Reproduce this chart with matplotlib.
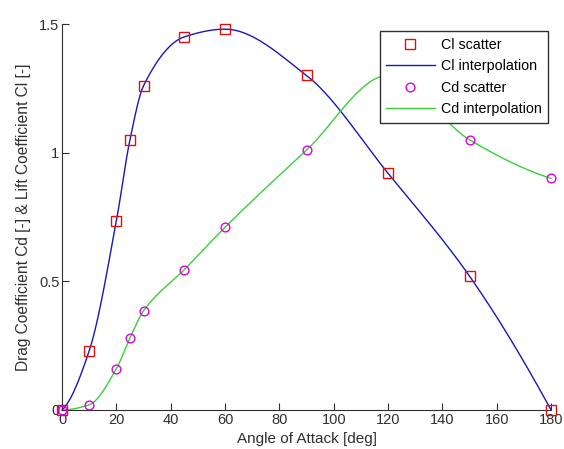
import numpy as np
import matplotlib
matplotlib.use("Agg")
import matplotlib.pyplot as plt

angle = [0, 10, 20, 25, 30, 45, 60, 90, 120, 150, 180]
cl = [0.0, 0.23, 0.735, 1.05, 1.26, 1.45, 1.48, 1.30, 0.92, 0.52, 0.0]
cd = [0.0, 0.02, 0.16, 0.28, 0.385, 0.545, 0.71, 1.01, 1.30, 1.05, 0.90]
xticks = [0, 20, 40, 60, 80, 100, 120, 140, 160, 180]
yticks = [0, 0.5, 1, 1.5]
yticklabels = ["0", "0.5", "1", "1.5"]


def pchip(x, y, xx):
    x = np.asarray(x, float)
    y = np.asarray(y, float)
    h = np.diff(x)
    delta = np.diff(y) / h
    n = len(x)
    d = np.zeros(n)
    for k in range(1, n - 1):
        if delta[k - 1] * delta[k] > 0:
            w1 = 2 * h[k] + h[k - 1]
            w2 = h[k] + 2 * h[k - 1]
            d[k] = (w1 + w2) / (w1 / delta[k - 1] + w2 / delta[k])

    def end_slope(h0, h1, d0, d1):
        s = ((2 * h0 + h1) * d0 - h0 * d1) / (h0 + h1)
        if np.sign(s) != np.sign(d0):
            s = 0.0
        elif np.sign(d0) != np.sign(d1) and abs(s) > abs(3 * d0):
            s = 3 * d0
        return s

    d[0] = end_slope(h[0], h[1], delta[0], delta[1])
    d[-1] = end_slope(h[-1], h[-2], delta[-1], delta[-2])
    idx = np.clip(np.searchsorted(x, xx, side="right") - 1, 0, n - 2)
    hh = h[idx]
    t = (xx - x[idx]) / hh
    h00 = 2 * t ** 3 - 3 * t ** 2 + 1
    h10 = t ** 3 - 2 * t ** 2 + t
    h01 = -2 * t ** 3 + 3 * t ** 2
    h11 = t ** 3 - t ** 2
    return h00 * y[idx] + h10 * hh * d[idx] + h01 * y[idx + 1] + h11 * hh * d[idx + 1]


xx = np.linspace(0, 180, 721)
cl_i = pchip(angle, cl, xx)
cd_i = pchip(angle, cd, xx)

plt.rcParams["font.family"] = ["Liberation Sans", "DejaVu Sans"]
fig = plt.figure(figsize=(5.64, 4.49), dpi=100)
ax = fig.add_axes([0.110, 0.087, 0.867, 0.8595])

ax.plot(angle, cl, linestyle="none", marker="s", markersize=7, markerfacecolor="none",
        markeredgecolor="#e01010", markeredgewidth=1.0, label="Cl scatter", clip_on=False, zorder=3)
ax.plot(xx, cl_i, color="#1818b8", linewidth=1.0, label="Cl interpolation", clip_on=False)
ax.plot(angle, cd, linestyle="none", marker="o", markersize=6.3, markerfacecolor="none",
        markeredgecolor="#e000e0", markeredgewidth=1.0, label="Cd scatter", clip_on=False, zorder=3)
ax.plot(xx, cd_i, color="#38d038", linewidth=1.0, label="Cd interpolation", clip_on=False)

ax.set_xlim(0, 180)
ax.set_ylim(0, 1.5)
ax.set_xticks(xticks)
ax.set_yticks(yticks)
ax.set_yticklabels(yticklabels)
ax.spines["top"].set_visible(False)
ax.spines["right"].set_visible(False)
for s in ("left", "bottom"):
    ax.spines[s].set_color("#303030")
ax.tick_params(direction="in", length=5, labelsize=10.5, colors="#303030", labelcolor="#303030", pad=2)
ax.set_xlabel("Angle of Attack [deg]", fontsize=11, color="#303030", labelpad=4)
ax.set_ylabel("Drag Coefficient Cd [-] & Lift Coefficient Cl [-]", fontsize=11.2, color="#303030", labelpad=6)

leg = ax.legend(loc="upper right", bbox_to_anchor=(0.9945, 0.981), fontsize=10.3, frameon=True, fancybox=False,
                edgecolor="#303030", framealpha=1, borderpad=0.45, labelspacing=0.52, handlelength=3.4,
                handletextpad=0.45, borderaxespad=0)
leg.get_frame().set_linewidth(1.0)
leg.set_zorder(5)

fig.savefig("out.png", dpi=100)
